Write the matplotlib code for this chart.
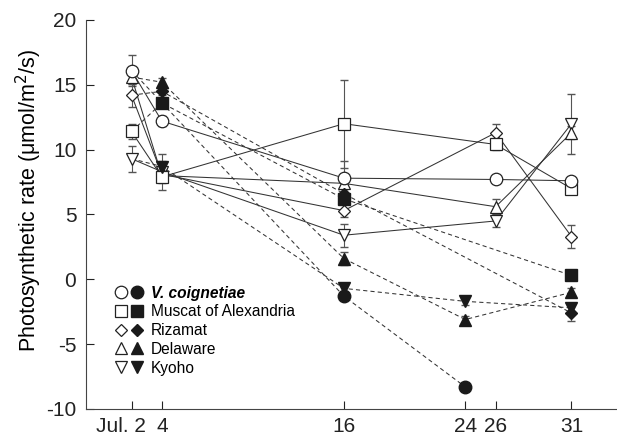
import matplotlib
import numpy as np

matplotlib.use('Agg')
from matplotlib import pyplot as plt
from matplotlib.lines import Line2D
from matplotlib.legend_handler import HandlerTuple
from matplotlib.transforms import ScaledTranslation

plt.rcParams['font.family'] = ['Liberation Sans', 'DejaVu Sans']
plt.rcParams['axes.unicode_minus'] = False

names = ["V. coignetiae", "Muscat of Alexandria", "Rizamat", "Delaware", "Kyoho"]
markers = ["o", "s", "D", "^", "v"]

# open symbols (solid lines)
days_open = [2, 4, 16, 26, 31]
open_vals = [
    [16.1, 12.2, 7.8, 7.7, 7.6],
    [11.4, 7.9, 12.0, 10.4, 7.0],
    [14.2, 8.1, 5.3, 11.3, 3.3],
    [15.6, 8.0, 7.4, 5.6, 11.3],
    [9.3, 8.3, 3.4, 4.5, 12.0],
]
open_err = [
    [1.2, 0.4, 1.3, 0.3, 0.3],
    [0.6, 0.5, 3.4, 0.4, 0.3],
    [0.9, 0.5, 0.5, 0.7, 0.9],
    [0.5, 0.5, 0.4, 0.6, 0.5],
    [1.0, 1.4, 0.9, 0.5, 2.3],
]

# filled symbols (dashed lines); first point is the shared Jul. 2 value
days_filled = [
    [2, 16, 24],
    [2, 4, 16, 31],
    [2, 4, 16, 31],
    [2, 4, 16, 24, 31],
    [2, 4, 16, 24, 31],
]
filled_vals = [
    [16.1, -1.3, -8.3],
    [11.4, 13.6, 6.2, 0.3],
    [14.2, 14.5, 6.6, -2.6],
    [15.6, 15.2, 1.6, -3.1, -1.0],
    [9.3, 8.7, -0.7, -1.7, -2.2],
]
filled_err = [
    [0.0, 0.3, 0.3],
    [0.0, 0.4, 0.4, 0.3],
    [0.0, 0.3, 0.4, 0.6],
    [0.0, 0.3, 0.5, 0.3, 0.3],
    [0.0, 0.4, 0.3, 0.3, 0.3],
]

xticks = [2, 4, 16, 24, 26, 31]
xticklabels = ["Jul. 2", "4", "16", "24", "26", "31"]

msize = {"o": 9, "s": 8.5, "D": 6.5, "^": 8.5, "v": 8.5}
edge = "#222222"

fig = plt.figure(figsize=(6.17, 4.42), dpi=100)
ax = fig.add_axes([0.1394, 0.0747, 0.8606, 0.8801])

for m, d, v, e in zip(markers, days_filled, filled_vals, filled_err):
    ax.plot(d, v, ls=(0, (4, 3)), color="#333333", lw=0.75, zorder=2)
    ax.errorbar(d[1:], v[1:], yerr=e[1:], fmt="none", ecolor="#555555",
                elinewidth=0.8, capsize=3, zorder=2)
    ax.plot(d[1:], v[1:], ls="none", marker=m, ms=msize[m], mfc="#1a1a1a",
            mec="#1a1a1a", zorder=4)

# draw open series so that V. coignetiae ends up on top
for i in range(len(markers) - 1, -1, -1):
    m, v, e = markers[i], open_vals[i], open_err[i]
    ax.errorbar(days_open, v, yerr=e, fmt="none", ecolor="#555555",
                elinewidth=0.8, capsize=3, zorder=2)
    ax.plot(days_open, v, ls="-", color="#333333", lw=0.75, marker=m,
            ms=msize[m], mfc="white", mec=edge, mew=0.9, zorder=3 + 0.1 * (5 - i))

ax.set_xlim(-1, 34)
ax.set_ylim(-10, 20)
ax.set_yticks(np.arange(-10, 21, 5))
ax.set_xticks(xticks)
ax.set_xticklabels(xticklabels)
ax.tick_params(direction="in", length=6, width=0.8, labelsize=15, colors="#222222")
ax.tick_params(axis="x", pad=6)
ax.tick_params(axis="y", pad=7)
lbl = ax.get_xticklabels()[0]
lbl.set_horizontalalignment("right")
lbl.set_transform(lbl.get_transform() + ScaledTranslation(10 / 72, 0, fig.dpi_scale_trans))
for s in ["top", "right"]:
    ax.spines[s].set_visible(False)
for s in ["left", "bottom"]:
    ax.spines[s].set_color("#444444")
    ax.spines[s].set_linewidth(0.8)
ax.set_ylabel("Photosynthetic rate (\u03bcmol/m$^2$/s)", fontsize=15.5)
ax.yaxis.set_label_coords(-0.08, 0.535)

handles = []
for m in markers:
    o = Line2D([], [], ls="none", marker=m, ms=msize[m], mfc="white", mec=edge, mew=0.9)
    f = Line2D([], [], ls="none", marker=m, ms=msize[m], mfc="#1a1a1a", mec="#1a1a1a")
    handles.append((o, f))
leg = ax.legend(handles, names, handler_map={tuple: HandlerTuple(ndivide=None, pad=0.1)},
                loc="lower left", bbox_to_anchor=(0.04, 0.07), frameon=False,
                fontsize=11.2, handlelength=2.0, handletextpad=0.4, labelspacing=0.24,
                borderaxespad=0)
leg.get_texts()[0].set_fontstyle("italic")
leg.get_texts()[0].set_fontweight("bold")

fig.savefig("out.png", dpi=100)
